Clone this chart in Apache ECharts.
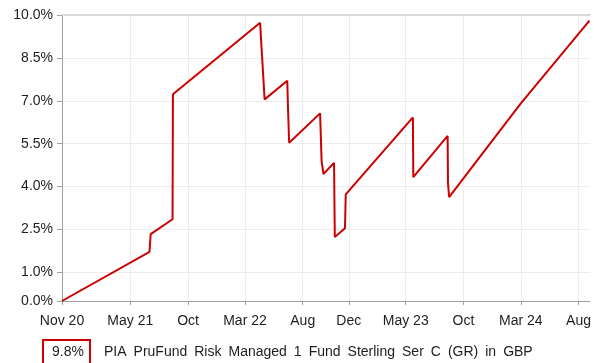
<!DOCTYPE html>
<html>
<head>
<meta charset="utf-8">
<script src="https://cdn.jsdelivr.net/npm/echarts@6/dist/echarts.min.js"></script>
<style>
  html, body { margin: 0; padding: 0; background: #fff; }
  #chart { width: 594px; height: 363px; }
</style>
</head>
<body>
<div id="chart"></div>
<script>
// Cumulative performance of the fund, in percent
const dates = [
  '2020-11-01', '2021-06-21', '2021-06-24', '2021-08-21', '2021-08-22',
  '2022-04-10', '2022-04-15', '2022-04-22', '2022-06-21', '2022-06-23',
  '2022-06-26', '2022-09-16', '2022-09-20', '2022-09-25', '2022-10-23',
  '2022-10-25', '2022-11-21', '2022-11-23', '2023-05-20', '2023-05-21',
  '2023-08-20', '2023-08-21', '2023-08-24', '2024-03-01', '2024-08-30'
];
const values = [
  0.00, 1.72, 2.34, 2.86, 7.23,
  9.73, 8.60, 7.05, 7.70, 6.74,
  5.53, 6.56, 4.90, 4.44, 4.83,
  2.24, 2.54, 3.73, 6.42, 4.33,
  5.77, 4.13, 3.63, 6.91, 9.80
];

const yTicks = [0, 1, 2.5, 4, 5.5, 7, 8.5, 10];
const xTickDates = [
  '2020-11-01', '2021-05-01', '2021-10-01', '2022-03-01', '2022-08-01',
  '2022-12-01', '2023-05-01', '2023-10-01', '2024-03-01', '2024-08-01'
];
const xTickLabels = ['Nov 20', 'May 21', 'Oct', 'Mar 22', 'Aug', 'Dec', 'May 23', 'Oct', 'Mar 24', 'Aug'];
const seriesName = 'PIA PruFund Risk Managed 1 Fund Sterling Ser C (GR) in GBP';
const axisStart = '2020-11-01';
const axisEnd = '2024-08-31';

// dates become millisecond timestamps on a plain value axis
function ts(s) {
  const p = s.split('-').map(Number);
  return Date.UTC(p[0], p[1] - 1, p[2]);
}

const xTickTs = xTickDates.map(ts);
const lineData = dates.map((d, i) => [ts(d), values[i]]);
const lastLabel = values[values.length - 1].toFixed(1) + '%';
// the legend caption uses wide word gaps
const legendCaption = seriesName.replace(/ /g, '\u2002');

const FONT = 'Liberation Sans, Arial, sans-serif';
const RED = '#cc0000';
const TEXT = '#1e1e1e';

const chart = echarts.init(document.getElementById('chart'), null, { renderer: 'canvas' });
chart.setOption({
  animation: false,
  backgroundColor: '#fff',
  grid: { left: 62, top: 15, right: -2, bottom: 62 },
  xAxis: [
    {
      type: 'value',
      min: ts(axisStart),
      max: ts(axisEnd),
      axisLine: { show: true, lineStyle: { color: '#a0a0a0', width: 1 } },
      axisTick: { show: true, length: 4, customValues: xTickTs, lineStyle: { color: '#a0a0a0' } },
      axisLabel: {
        customValues: xTickTs,
        margin: 13,
        color: TEXT,
        fontFamily: FONT,
        fontSize: 14,
        formatter: function (v) {
          for (let i = 0; i < xTickTs.length; i++) {
            if (Math.abs(xTickTs[i] - v) < 43200000) return xTickLabels[i];
          }
          return '';
        }
      },
      splitLine: { show: true, lineStyle: { color: '#ececec', width: 1 } }
    },
    {
      // top frame line
      type: 'value',
      position: 'top',
      min: ts(axisStart),
      max: ts(axisEnd),
      axisLine: { show: true, lineStyle: { color: '#dadada', width: 2 } },
      axisTick: { show: false },
      axisLabel: { show: false },
      splitLine: { show: false }
    }
  ],
  yAxis: {
    type: 'value',
    min: 0,
    max: 10,
    axisLine: { show: true, lineStyle: { color: '#a0a0a0', width: 1 } },
    axisTick: { show: true, length: 5, customValues: yTicks, lineStyle: { color: '#a0a0a0' } },
    axisLabel: {
      customValues: yTicks,
      margin: 9,
      color: TEXT,
      fontFamily: FONT,
      fontSize: 14,
      formatter: function (v) { return v.toFixed(1) + '%'; }
    },
    splitLine: { show: true, lineStyle: { color: '#ececec', width: 1 } }
  },
  series: [{
    name: seriesName,
    type: 'line',
    xAxisIndex: 0,
    data: lineData,
    showSymbol: false,
    symbol: 'none',
    lineStyle: { color: RED, width: 2 },
    z: 5
  }],
  graphic: [
    {
      type: 'rect',
      shape: { x: 43, y: 340, width: 47, height: 32 },
      style: { fill: 'none', stroke: RED, lineWidth: 2 }
    },
    {
      type: 'text',
      x: 68, y: 352,
      style: { text: lastLabel, fill: TEXT, font: '14px ' + FONT, align: 'center', verticalAlign: 'middle' }
    },
    {
      type: 'text',
      x: 104, y: 352,
      style: { text: legendCaption, fill: TEXT, font: '14px ' + FONT, align: 'left', verticalAlign: 'middle' }
    }
  ]
});
</script>
</body>
</html>
